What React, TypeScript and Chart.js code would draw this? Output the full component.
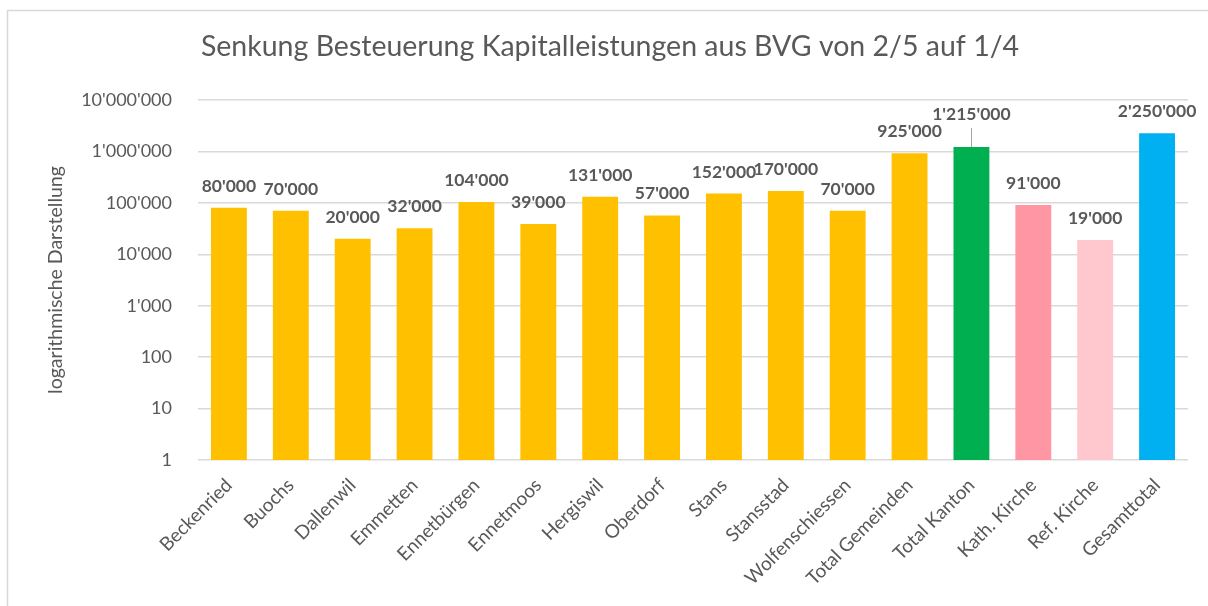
import React, { useEffect, useRef } from "react";
import { Chart, registerables } from "chart.js";

Chart.register(...registerables);

const categories = [
  "Beckenried", "Buochs", "Dallenwil", "Emmetten", "Ennetbürgen", "Ennetmoos",
  "Hergiswil", "Oberdorf", "Stans", "Stansstad", "Wolfenschiessen",
  "Total Gemeinden", "Total Kanton", "Kath. Kirche", "Ref. Kirche", "Gesamttotal",
];
const values = [
  80000, 70000, 20000, 32000, 104000, 39000, 131000, 57000, 152000, 170000, 70000,
  925000, 1215000, 91000, 19000, 2250000,
];
const barColors = [
  "#FFC000", "#FFC000", "#FFC000", "#FFC000", "#FFC000", "#FFC000", "#FFC000", "#FFC000",
  "#FFC000", "#FFC000", "#FFC000", "#FFC000", "#00B050", "#FF96A3", "#FFC7CE", "#00B0F0",
];
const yTicks = [1, 10, 100, 1000, 10000, 100000, 1000000, 10000000];
const title = "Senkung Besteuerung Kapitalleistungen aus BVG von 2/5 auf 1/4";
const yTitle = "logarithmische Darstellung";
const raisedLabelIndex = 12;

const FONT = "Lato, 'Open Sans', sans-serif";
const TEXT = "#595959";

const fmt = (n: number) => String(n).replace(/\B(?=(\d{3})+(?!\d))/g, "'");

export default function App() {
  const ref = useRef<HTMLCanvasElement | null>(null);

  useEffect(() => {
    if (!ref.current) return;
    document.body.style.margin = "0";

    const decor = {
      id: "decor",
      beforeDraw(chart: any) {
        const ctx = chart.ctx;
        ctx.save();
        ctx.fillStyle = "#ffffff";
        ctx.fillRect(0, 0, chart.width, chart.height);
        ctx.strokeStyle = "#d9d9d9";
        ctx.lineWidth = 1.5;
        ctx.beginPath();
        ctx.moveTo(7.5, chart.height);
        ctx.lineTo(7.5, 10.5);
        ctx.lineTo(chart.width, 10.5);
        ctx.stroke();
        ctx.fillStyle = TEXT;
        ctx.font = `28.5px ${FONT}`;
        ctx.textAlign = "center";
        ctx.textBaseline = "middle";
        ctx.fillText(title, 610, 47);
        ctx.restore();
      },
      afterDatasetsDraw(chart: any) {
        const ctx = chart.ctx;
        const meta = chart.getDatasetMeta(0);
        ctx.save();
        ctx.font = `bold 17.5px ${FONT}`;
        ctx.fillStyle = TEXT;
        ctx.textAlign = "center";
        ctx.textBaseline = "alphabetic";
        meta.data.forEach((bar: any, i: number) => {
          const v = chart.data.datasets[0].data[i];
          if (i === raisedLabelIndex) {
            ctx.strokeStyle = "#a6a6a6";
            ctx.lineWidth = 1;
            ctx.beginPath();
            ctx.moveTo(Math.round(bar.x) + 0.5, bar.y);
            ctx.lineTo(Math.round(bar.x) + 0.5, bar.y - 19);
            ctx.stroke();
            ctx.fillText(fmt(v), bar.x, bar.y - 27);
          } else {
            ctx.fillText(fmt(v), bar.x, bar.y - 16);
          }
        });
        ctx.restore();
      },
    };

    const chart = new Chart(ref.current, {
      type: "bar",
      data: {
        labels: categories,
        datasets: [
          {
            data: values,
            backgroundColor: barColors,
            borderWidth: 0,
            barPercentage: 0.58,
            categoryPercentage: 1,
          },
        ],
      },
      options: {
        responsive: false,
        animation: false,
        layout: { padding: { top: 100, right: 20, left: 0, bottom: 0 } },
        plugins: {
          legend: { display: false },
          tooltip: { enabled: false },
          title: { display: false },
        },
        scales: {
          x: {
            grid: { display: false, drawTicks: false },
            border: { display: false },
            ticks: {
              color: TEXT,
              font: { family: FONT, size: 19 },
              minRotation: 45,
              maxRotation: 45,
              padding: 14,
              autoSkip: false,
            },
            afterFit(scale: any) {
              scale.height = 146;
            },
          },
          y: {
            type: "logarithmic",
            min: 1,
            max: 10000000,
            grid: { color: "#d9d9d9", lineWidth: 1.5, drawTicks: false },
            border: { display: false },
            ticks: {
              color: TEXT,
              font: { family: FONT, size: 18 },
              padding: 26,
              callback: (v: any) => fmt(Number(v)),
            },
            title: {
              display: true,
              text: yTitle,
              color: TEXT,
              font: { family: FONT, size: 19.5 },
              padding: { top: 44, bottom: 0 },
            },
            afterBuildTicks(scale: any) {
              scale.ticks = yTicks.map((v) => ({ value: v }));
            },
            afterFit(scale: any) {
              scale.width = 198;
            },
          },
        },
      },
      plugins: [decor],
    });
    return () => chart.destroy();
  }, []);

  return (
    <div style={{ position: "fixed", left: 0, top: 0, width: 1208, height: 606 }}>
      <canvas ref={ref} width={1208} height={606} style={{ display: "block" }} />
    </div>
  );
}
